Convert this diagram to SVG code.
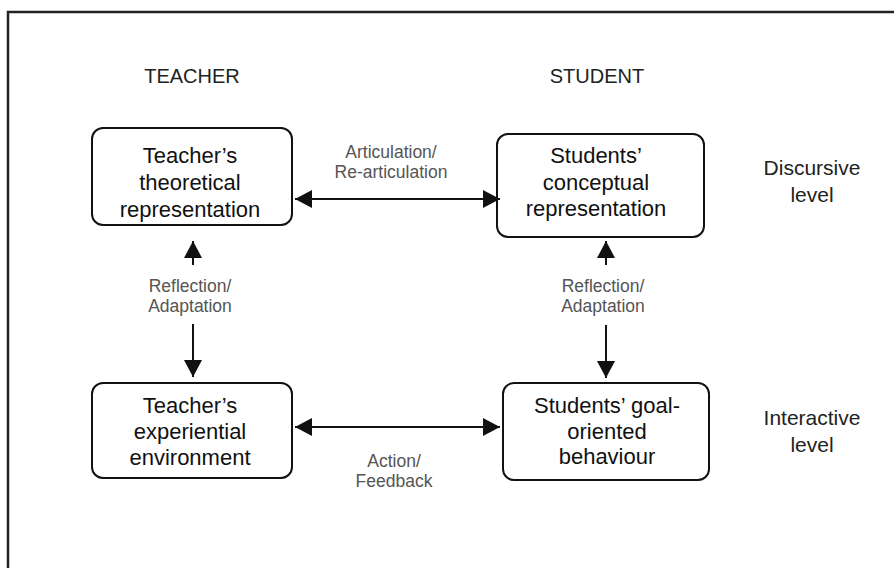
<svg xmlns="http://www.w3.org/2000/svg" width="894" height="568" viewBox="0 0 894 568">
<style>
.frame{fill:none;stroke:#222;stroke-width:2.5}
.box{fill:#fff;stroke:#111;stroke-width:2}
.bt{font-family:"Liberation Sans",Arial,sans-serif;font-size:22px;fill:#111;text-anchor:middle}
.hd{font-family:"Liberation Sans",Arial,sans-serif;font-size:20px;fill:#222;text-anchor:middle}
.lv{font-family:"Liberation Sans",Arial,sans-serif;font-size:21px;fill:#222;text-anchor:middle}
.lb{font-family:"Liberation Sans",Arial,sans-serif;font-size:17.5px;fill:#555;text-anchor:middle}
.ln{fill:none;stroke:#111;stroke-width:2}
</style>
<defs>
<marker id="ah" viewBox="0 0 17 18" refX="17" refY="9" markerWidth="17" markerHeight="18" markerUnits="userSpaceOnUse" orient="auto-start-reverse">
<path d="M0,0 L17,9 L0,18 Z" fill="#111"/>
</marker>
</defs>
<rect width="894" height="568" fill="#fff"/>
<rect class="frame" x="8" y="12" width="900" height="570"/>
<text class="hd" x="192" y="83">TEACHER</text>
<text class="hd" x="597" y="83">STUDENT</text>
<text class="lv" x="812" y="175">Discursive</text>
<text class="lv" x="812" y="202">level</text>
<text class="lv" x="812" y="425">Interactive</text>
<text class="lv" x="812" y="452">level</text>
<g id="teacher-theoretical">
<rect class="box" x="92" y="128" width="200" height="97" rx="11"/>
<text class="bt" x="190" y="163">Teacher’s</text>
<text class="bt" x="190" y="190">theoretical</text>
<text class="bt" x="190" y="217">representation</text>
</g>
<g id="students-conceptual">
<rect class="box" x="497" y="134" width="207" height="103" rx="11"/>
<text class="bt" x="596" y="163">Students’</text>
<text class="bt" x="596" y="190">conceptual</text>
<text class="bt" x="596" y="216">representation</text>
</g>
<g id="teacher-experiential">
<rect class="box" x="92" y="383" width="200" height="95" rx="11"/>
<text class="bt" x="190" y="413">Teacher’s</text>
<text class="bt" x="190" y="439">experiential</text>
<text class="bt" x="190" y="465">environment</text>
</g>
<g id="students-goal">
<rect class="box" x="503" y="383" width="206" height="97" rx="11"/>
<text class="bt" x="607" y="413">Students’ goal-</text>
<text class="bt" x="607" y="439">oriented</text>
<text class="bt" x="607" y="464">behaviour</text>
</g>
<g id="connectors">
<line class="ln" x1="295" y1="199" x2="500" y2="199" marker-start="url(#ah)" marker-end="url(#ah)"/>
<line class="ln" x1="295" y1="427" x2="500" y2="427" marker-start="url(#ah)" marker-end="url(#ah)"/>
<line class="ln" x1="193" y1="265" x2="193" y2="241" marker-end="url(#ah)"/>
<line class="ln" x1="193" y1="324" x2="193" y2="377" marker-end="url(#ah)"/>
<line class="ln" x1="606" y1="265" x2="606" y2="241" marker-end="url(#ah)"/>
<line class="ln" x1="606" y1="325" x2="606" y2="378" marker-end="url(#ah)"/>
<text class="lb" x="391" y="158">Articulation/</text>
<text class="lb" x="391" y="178">Re-articulation</text>
<text class="lb" x="190" y="292">Reflection/</text>
<text class="lb" x="190" y="312">Adaptation</text>
<text class="lb" x="603" y="292">Reflection/</text>
<text class="lb" x="603" y="312">Adaptation</text>
<text class="lb" x="394" y="467">Action/</text>
<text class="lb" x="394" y="487">Feedback</text>
</g>
</svg>
